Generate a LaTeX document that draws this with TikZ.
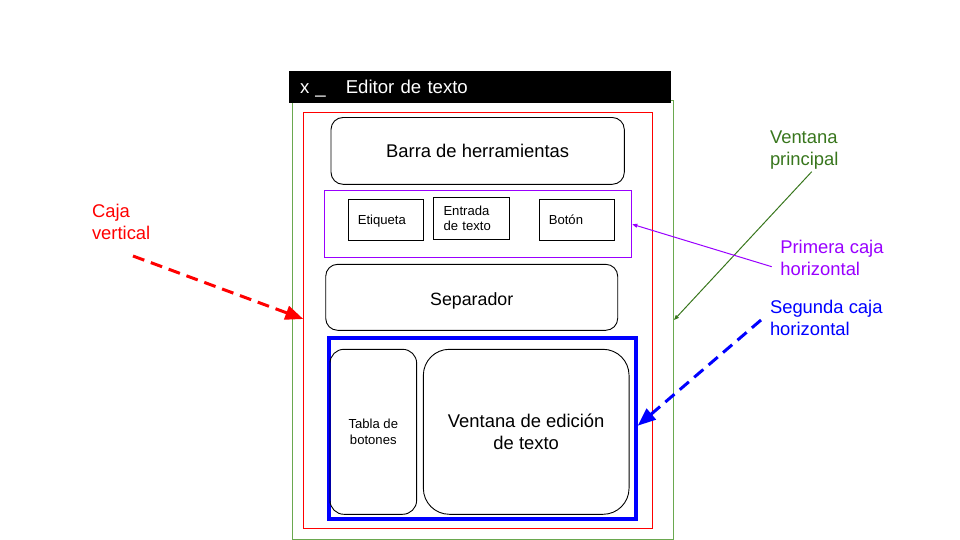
\documentclass[tikz,border=0pt]{standalone}
\usepackage{fontspec}
\setmainfont{Liberation Sans}
\usetikzlibrary{arrows.meta}
\definecolor{cred}{HTML}{FF0000}
\definecolor{cgreen}{HTML}{6AA84F}
\definecolor{cdgreen}{HTML}{38761D}
\definecolor{cpurple}{HTML}{9900FF}
\definecolor{cblue}{HTML}{0000FF}
\begin{document}
\begin{tikzpicture}[x=1pt,y=-1pt,
  every node/.style={inner sep=0pt, outer sep=0pt},
  big/.style={font=\fontsize{18.4}{21.7}\selectfont},
  small/.style={font=\fontsize{13.1}{15.3}\selectfont},
  frame/.style={draw=#1, line width=1pt, rectangle},
  rbox/.style={draw=black, line width=0.9pt, rectangle, rounded corners=#1},
  sbox/.style={draw=black, line width=1pt, rectangle, small, text width=56pt, align=left, text height=9.6pt, text depth=0pt},
  annot/.style={big, align=left, anchor=base west, text=#1},
  fatarrow/.style={draw=#1, line width=3pt, dash pattern=on 12pt off 7pt, -{Triangle[length=18pt,width=14pt]}},
  thinarrow/.style={draw=#1, line width=1pt, -{Triangle[length=5pt,width=4pt]}}
]
\useasboundingbox (0,0) rectangle (960,540);

% main window
\node[frame=cgreen, minimum width=381, minimum height=438] (win) at (483,320) {};
\node[fill=black, minimum width=382, minimum height=32, text=white, big,
      font=\fontsize{18.6}{21.7}\selectfont, text width=360pt, align=left,
      text height=13.6pt, text depth=0pt] (title) at (480,87) {x \_\hspace{20pt}Editor de texto};

% vertical box
\node[frame=cred, minimum width=349.3, minimum height=415.7] (vbox) at (477.65,320.15) {};

\node[rbox=12pt, big, minimum width=293.3, minimum height=66.8, text height=13.4pt, text depth=0pt] (barra) at (477.65,150.9) {Barra de herramientas};

% first horizontal box
\node[frame=cpurple, minimum width=307.4, minimum height=67.4] (hbox1) at (478,224) {};
\node[sbox, minimum width=75, minimum height=41] (etiq) at (385.8,219.8) {Etiqueta};
\node[sbox, minimum width=75.6, minimum height=42, text height=, text depth=] (entrada) at (471.5,218.3) {Entrada\\de texto};
\node[sbox, minimum width=75, minimum height=41] (boton) at (576.8,219.8) {Botón};

\node[rbox=12pt, minimum width=292, minimum height=66, font=\fontsize{17.8}{21.7}\selectfont, text height=16.6pt, text depth=0pt] (sep) at (471.7,297.3) {Separador};

% second horizontal box
\node[draw=cblue, line width=4pt, rectangle, minimum width=307, minimum height=181] (hbox2) at (482.5,428) {};
\node[rbox=14pt, small, align=center, minimum width=86.7, minimum height=165] (tabla) at (373.3,431.8) {Tabla de\\botones};
\node[rbox=26pt, big, align=center, minimum width=205.7, minimum height=165] (edit) at (526.2,431.8) {Ventana de edición\\de texto};

% annotations (base anchor = baseline of the last line)
\node[annot=cred] (lcv) at (92,239.3) {Caja\\vertical};
\node[annot=cdgreen] (lvp) at (770,165.7) {Ventana\\principal};
\node[annot=cpurple] (lh1) at (780.3,275) {Primera caja\\horizontal};
\node[annot=cblue] (lh2) at (770,335) {Segunda caja\\horizontal};

\coordinate (cv-s) at (133,256);
\coordinate (cv-e) at (303.3,319);
\coordinate (vp-s) at (811.7,171.7);
\coordinate (vp-e) at (674,320);
\coordinate (h1-s) at (771.7,266.7);
\coordinate (h1-e) at (632.3,224.3);
\coordinate (h2-s) at (761,320);
\coordinate (h2-e) at (637.7,425.7);

\draw[fatarrow=cred] (cv-s) -- (cv-e);
\draw[thinarrow=cdgreen] (vp-s) -- (vp-e);
\draw[thinarrow=cpurple] (h1-s) -- (h1-e);
\draw[fatarrow=cblue] (h2-s) -- (h2-e);
\end{tikzpicture}
\end{document}
